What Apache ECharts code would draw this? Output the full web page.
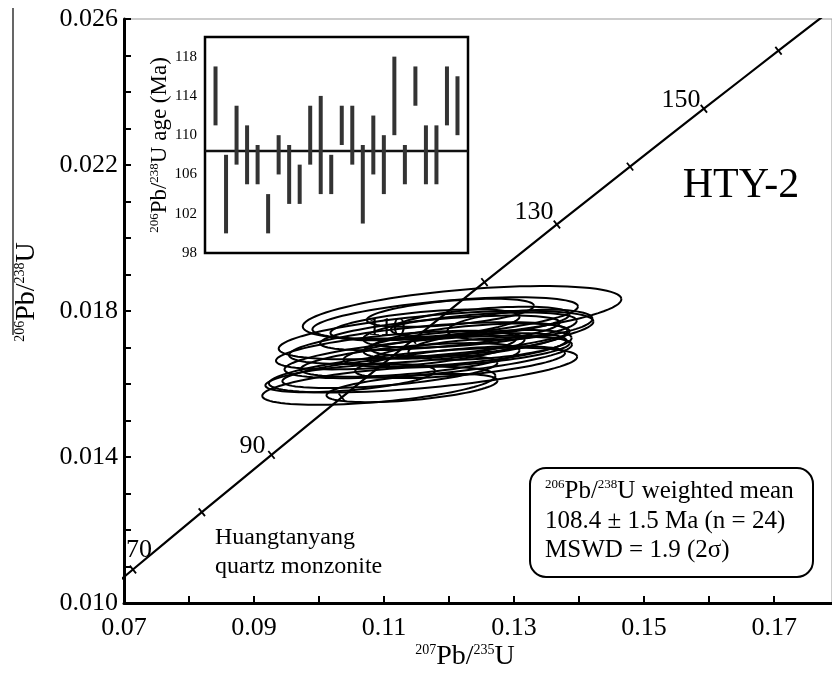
<!DOCTYPE html>
<html lang="en">
<head>
  <meta charset="UTF-8">
  <title>HTY-2 concordia</title>
  <script src="https://cdn.jsdelivr.net/npm/echarts@6/dist/echarts.min.js"></script>
</head>
<body style="margin:0">
  <div id="main" style="width: 832px; height: 680px;"></div>
<script>
  // ellipses: [207Pb/235U, 206Pb/238U, half-width x, half-height y]
  const ellipses = [
    [0.1220, 0.01795, 0.0246, 0.00063],
    [0.1180, 0.01734, 0.0243, 0.00055],
    [0.1092, 0.01595, 0.0180, 0.00044],
    [0.1160, 0.01638, 0.0238, 0.00049],
    [0.1168, 0.01674, 0.0222, 0.00047],
    [0.1168, 0.01712, 0.0215, 0.00047],
    [0.1194, 0.01781, 0.0205, 0.00047],
    [0.1143, 0.01589, 0.0132, 0.00033],
    [0.1202, 0.01795, 0.0129, 0.00033],
    [0.1309, 0.01762, 0.0112, 0.00038],
    [0.1232, 0.01748, 0.0165, 0.00041],
    [0.1186, 0.01707, 0.0118, 0.00033],
    [0.1125, 0.01693, 0.0192, 0.00044],
    [0.1232, 0.01721, 0.0154, 0.00038],
    [0.1209, 0.01693, 0.0172, 0.00038],
    [0.1140, 0.01666, 0.0169, 0.00038],
    [0.1248, 0.01770, 0.0138, 0.00036],
    [0.1109, 0.01633, 0.0166, 0.00036],
    [0.1186, 0.01740, 0.0185, 0.00038],
    [0.1217, 0.01660, 0.0162, 0.00036],
    [0.1163, 0.01762, 0.0146, 0.00036],
    [0.1263, 0.01707, 0.0126, 0.00036],
    [0.1048, 0.01616, 0.0131, 0.00033],
    [0.1232, 0.01688, 0.0154, 0.00033]
  ]
  // concordia ages (Ma)
  const curveAges = [60, 65, 70, 75, 80, 85, 90, 95, 100, 105, 110, 115, 120, 125, 130, 135, 140, 145, 150, 155, 160, 165, 170, 175, 180]
  const tickAges = [70, 80, 90, 100, 110, 120, 130, 140, 150, 160]
  const labelAges = [70, 90, 110, 130, 150]
  const labelOffsets = [[6, -19], [-19, -9], [-26, -12], [-23, -12], [-23, -9]]

  // inset: single-spot 206Pb/238U ages (Ma)
  const agesHigh = [117, 108, 113, 111, 109, 104, 110, 109, 107, 113, 114, 108, 113, 113, 109, 112, 110, 118, 109, 117, 111, 111, 117, 116]
  const agesLow = [111, 100, 107, 105, 105, 100, 106, 103, 103, 107, 104, 104, 109, 107, 101, 106, 104, 110, 105, 113, 105, 105, 111, 110]
  const meanAge = 108.4
  const insetGrid = [102, 106, 110, 114, 118]

  const L238 = 1.55125e-10, L235 = 9.8485e-10
  const concordia = t => [Math.expm1(L235 * t * 1e6), Math.expm1(L238 * t * 1e6)]

  const serif = 'Liberation Serif'
  const tilt = 5 * Math.PI / 180

  let myCharts = echarts.init(document.getElementById('main'))
  let option = {
    animation: false,
    grid: [
      { left: 124, top: 19, right: 0, bottom: 77, show: true, borderColor: '#999', borderWidth: 1 },
      { left: 205, top: 37, width: 263, height: 216, show: true, backgroundColor: '#fff', borderColor: '#000', borderWidth: 2.5, z: 10 }
    ],
    xAxis: [
      {
        gridIndex: 0, type: 'value', min: 0.07, max: 0.1789, interval: 0.01,
        axisLine: { lineStyle: { color: '#000', width: 3 } },
        axisTick: { inside: true, length: 7, lineStyle: { width: 2, color: '#000' } },
        axisLabel: {
          color: '#000', fontFamily: serif, fontSize: 26, margin: 12, showMaxLabel: false,
          formatter: v => Math.round(v * 100) % 2 === 1 ? v.toFixed(2) : ''
        },
        splitLine: { show: false }
      },
      {
        gridIndex: 1, type: 'value', min: 0, max: 25,
        axisLine: { show: false }, axisTick: { show: false }, axisLabel: { show: false }, splitLine: { show: false }
      }
    ],
    yAxis: [
      {
        gridIndex: 0, type: 'value', min: 0.010, max: 0.026, interval: 0.001,
        axisLine: { lineStyle: { color: '#000', width: 3 } },
        axisTick: { inside: true, length: 7, lineStyle: { width: 2, color: '#000' } },
        axisLabel: {
          color: '#000', fontFamily: serif, fontSize: 26, margin: 6,
          formatter: v => Math.round(v * 1000) % 4 === 2 ? v.toFixed(3) : ''
        },
        splitLine: { show: false }
      },
      {
        gridIndex: 1, type: 'value', min: 98, max: 120, interval: 2,
        axisLine: { show: false },
        axisTick: { inside: true, length: 5, lineStyle: { width: 1.5, color: '#000' } },
        axisLabel: {
          color: '#000', fontFamily: serif, fontSize: 15, margin: 8, showMaxLabel: false,
          formatter: v => (v - 98) % 4 === 0 ? String(v) : ''
        },
        splitLine: { show: false }
      }
    ],
    series: [
      {
        type: 'custom',
        xAxisIndex: 0, yAxisIndex: 0,
        data: ellipses,
        renderItem: (params, api) => {
          let c = api.coord([api.value(0), api.value(1)])
          let s = api.size([api.value(2), api.value(3)])
          let pts = []
          for (let k = 0; k <= 90; k++) {
            let a = 2 * Math.PI * k / 90
            let px = s[0] * Math.cos(a), py = s[1] * Math.sin(a)
            pts.push([c[0] + px * Math.cos(tilt) - py * Math.sin(tilt), c[1] - (px * Math.sin(tilt) + py * Math.cos(tilt))])
          }
          return { type: 'polyline', shape: { points: pts }, style: { fill: 'none', stroke: '#000', lineWidth: 2 } }
        }
      },
      {
        type: 'line',
        xAxisIndex: 0, yAxisIndex: 0,
        data: curveAges.map(concordia),
        showSymbol: false,
        lineStyle: { color: '#000', width: 2.2 },
        clip: true
      },
      {
        type: 'scatter',
        xAxisIndex: 0, yAxisIndex: 0,
        data: tickAges.map(concordia),
        symbol: 'rect',
        symbolSize: [1.8, 10],
        symbolRotate: 39,
        itemStyle: { color: '#000', opacity: 1 }
      },
      {
        type: 'scatter',
        xAxisIndex: 0, yAxisIndex: 0,
        z: 5,
        data: labelAges.map((t, i) => ({
          value: concordia(t).concat(t),
          label: { offset: labelOffsets[i] }
        })),
        symbolSize: 0,
        itemStyle: { opacity: 1 },
        label: {
          show: true, position: 'inside', color: '#000', opacity: 1, fontFamily: serif, fontSize: 26,
          formatter: p => p.value[2]
        }
      },
      {
        type: 'custom',
        xAxisIndex: 1, yAxisIndex: 1,
        z: 12,
        data: agesHigh.map((h, i) => [i + 1, agesLow[i], h]),
        renderItem: (params, api) => {
          let top = api.coord([api.value(0), api.value(2)])
          let bot = api.coord([api.value(0), api.value(1)])
          return { type: 'rect', shape: { x: top[0] - 2, y: top[1], width: 4, height: bot[1] - top[1] }, style: { fill: '#333' } }
        }
      },
      {
        type: 'line',
        xAxisIndex: 1, yAxisIndex: 1,
        z: 11,
        data: [[0, meanAge], [25, meanAge]],
        showSymbol: false,
        lineStyle: { color: '#111', width: 2.5 },
        markLine: {
          silent: true, symbol: 'none', label: { show: false },
          lineStyle: { color: '#888', type: [7, 5], width: 1.5 },
          data: insetGrid.map(v => ({ yAxis: v }))
        }
      }
    ],
    graphic: [
      {
        type: 'text', x: 27, y: 292, rotation: Math.PI / 2,
        style: {
          text: '{s|206}Pb/{s|238}U', fill: '#000', font: '28px ' + serif, align: 'center', verticalAlign: 'middle',
          rich: { s: { fontSize: 14, fontFamily: serif, verticalAlign: 'top', fill: '#000' } }
        }
      },
      { type: 'line', shape: { x1: 13, y1: 8, x2: 13, y2: 335 }, style: { stroke: '#000', lineWidth: 1.2 } },
      {
        type: 'text', x: 465, y: 657,
        style: {
          text: '{s|207}Pb/{s|235}U', fill: '#000', font: '28px ' + serif, align: 'center', verticalAlign: 'middle',
          rich: { s: { fontSize: 14, fontFamily: serif, verticalAlign: 'top', fill: '#000' } }
        }
      },
      {
        type: 'text', x: 160, y: 145, rotation: Math.PI / 2, z: 20,
        style: {
          text: '{s|206}Pb/{s|238}U age (Ma)', fill: '#000', font: '23px ' + serif, align: 'center', verticalAlign: 'middle',
          rich: { s: { fontSize: 13, fontFamily: serif, verticalAlign: 'top', fill: '#000' } }
        }
      },
      { type: 'text', x: 741, y: 186, style: { text: 'HTY-2', fill: '#000', font: '42px ' + serif, align: 'center', verticalAlign: 'middle' } },
      { type: 'text', x: 215, y: 538, style: { text: 'Huangtanyang', fill: '#000', font: '24px ' + serif, verticalAlign: 'middle' } },
      { type: 'text', x: 215, y: 567, style: { text: 'quartz monzonite', fill: '#000', font: '24px ' + serif, verticalAlign: 'middle' } },
      { type: 'rect', shape: { x: 530, y: 468, width: 283, height: 109, r: 16 }, style: { fill: '#fff', stroke: '#000', lineWidth: 2 } },
      {
        type: 'text', x: 545, y: 491,
        style: {
          text: '{s|206}Pb/{s|238}U weighted mean', fill: '#000', font: '25px ' + serif, verticalAlign: 'middle',
          rich: { s: { fontSize: 13, fontFamily: serif, verticalAlign: 'top', fill: '#000' } }
        }
      },
      { type: 'text', x: 545, y: 521, style: { text: '108.4 ± 1.5 Ma (n = 24)', fill: '#000', font: '25px ' + serif, verticalAlign: 'middle' } },
      { type: 'text', x: 545, y: 550, style: { text: 'MSWD = 1.9 (2σ)', fill: '#000', font: '25px ' + serif, verticalAlign: 'middle' } }
    ]
  }
  myCharts.setOption(option)
</script>
</body>
</html>
